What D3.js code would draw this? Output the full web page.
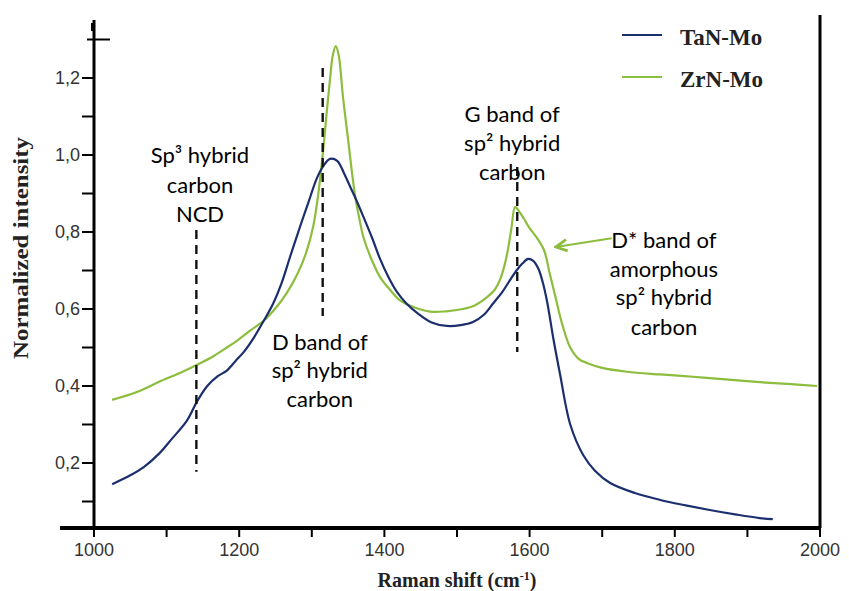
<!DOCTYPE html>
<html><head><meta charset="utf-8">
<script src="https://cdn.jsdelivr.net/npm/d3@7"></script>
<style>body{margin:0;background:#fff}svg{display:block}</style>
</head><body>
<svg id="c" width="849" height="591"></svg>
<script>
const seriesNames = ["TaN-Mo", "ZrN-Mo"];
const seriesColors = ["#1b2f6e", "#8cbd3c"];
const tanX = [1025,1050,1069,1090,1106,1128,1142,1156,1170,1183,1195,1207,1220,1234,1247,1258,1270,1284,1295,1307,1316,1325,1335,1345,1353,1362,1371,1383,1394,1405,1417,1430,1445,1465,1486,1505,1522,1537,1550,1562,1573,1582,1590,1598,1605,1612,1618,1624,1633,1642,1656,1674,1690,1711,1745,1780,1815,1848,1885,1917,1935];
const tanY = [0.145,0.168,0.19,0.225,0.26,0.31,0.36,0.40,0.425,0.44,0.465,0.49,0.525,0.57,0.615,0.665,0.735,0.815,0.875,0.94,0.972,0.99,0.985,0.95,0.917,0.88,0.84,0.785,0.73,0.685,0.645,0.615,0.59,0.565,0.556,0.558,0.566,0.585,0.615,0.643,0.675,0.70,0.718,0.73,0.725,0.705,0.67,0.62,0.52,0.43,0.30,0.22,0.18,0.148,0.122,0.104,0.09,0.078,0.066,0.057,0.054];
const zrnX = [1025,1060,1092,1120,1142,1165,1183,1200,1216,1234,1250,1265,1280,1292,1302,1309,1315,1320,1325,1329,1333,1337,1343,1350,1355,1360,1366,1371,1382,1394,1410,1421,1440,1463,1485,1508,1525,1541,1552,1559,1565,1570,1575,1580,1585,1592,1600,1610,1620,1628,1637,1645,1656,1668,1679,1700,1734,1780,1825,1870,1917,1960,1996];
const zrnY = [0.364,0.385,0.413,0.435,0.455,0.478,0.50,0.522,0.545,0.57,0.602,0.64,0.69,0.745,0.815,0.90,1.0,1.10,1.195,1.26,1.283,1.26,1.15,1.04,0.96,0.89,0.83,0.787,0.73,0.683,0.645,0.623,0.605,0.593,0.594,0.60,0.61,0.63,0.65,0.675,0.71,0.753,0.81,0.865,0.855,0.835,0.81,0.785,0.752,0.69,0.62,0.56,0.50,0.47,0.46,0.447,0.437,0.43,0.424,0.417,0.41,0.405,0.40];
const xTicks = [1000,1200,1400,1600,1800,2000];
const xMinor = [1100,1300,1500,1700,1900];
const yTicks = [0.2,0.4,0.6,0.8,1.0,1.2];
const yMinor = [0.1,0.3,0.5,0.7,0.9,1.1];
const annotations = [
  {x:1141, tx:1146, lines:["Sp³ hybrid","carbon","NCD"], ty:[163,193,222], y0:0.805, y1:0.177},
  {x:1315, tx:1311, lines:["D band of","sp² hybrid","carbon"], ty:[350,378,407], y0:1.226, y1:0.582},
  {x:1583, tx:1576, lines:["G band of","sp² hybrid","carbon"], ty:[122,151,180], y0:0.969, y1:0.488}
];
const dStar = {lines:["D* band of","amorphous","sp² hybrid","carbon"], tx:1785, ty:[248,277,305,335], ax0:1713, ay0:0.784, ax1:1636, ay1:0.761};

const svg = d3.select("#c");
const x = d3.scaleLinear().domain([1000,2000]).range([94,820]);
const y = d3.scaleLinear().domain([0.2,1.2]).range([463,78]);
const yBottom = 528, yTop = 20;

// curves
const line = d3.line().x(d=>x(d[0])).y(d=>y(d[1])).curve(d3.curveCatmullRom.alpha(0.5));
svg.append("path").datum(zrnX.map((v,i)=>[v,zrnY[i]])).attr("d",line)
  .attr("fill","none").attr("stroke",seriesColors[1]).attr("stroke-width",2.2);
svg.append("path").datum(tanX.map((v,i)=>[v,tanY[i]])).attr("d",line)
  .attr("fill","none").attr("stroke",seriesColors[0]).attr("stroke-width",2.2);

// dashed markers and labels
const annFont = "Lato, 'Open Sans', sans-serif";
const annSize = 22;
annotations.forEach(a=>{
  svg.append("line").attr("x1",x(a.x)).attr("x2",x(a.x)).attr("y1",y(a.y0)).attr("y2",y(a.y1))
    .attr("stroke","#111").attr("stroke-width",2.4).attr("stroke-dasharray","9,6");
  a.lines.forEach((t,i)=>svg.append("text").attr("x",x(a.tx)).attr("y",a.ty[i]).attr("text-anchor","middle")
    .attr("font-family",annFont).attr("font-size",annSize).attr("fill","#000").text(t));
});
dStar.lines.forEach((t,i)=>svg.append("text").attr("x",x(dStar.tx)).attr("y",dStar.ty[i]).attr("text-anchor","middle")
  .attr("font-family",annFont).attr("font-size",annSize).attr("fill","#000").text(t));
svg.append("defs").append("marker").attr("id","ah").attr("viewBox","0 0 10 10").attr("refX",9).attr("refY",5)
  .attr("markerWidth",14).attr("markerHeight",14).attr("orient","auto").attr("markerUnits","userSpaceOnUse")
  .append("path").attr("d","M1,1 L9,5 L1,9").attr("fill","none").attr("stroke",seriesColors[1]).attr("stroke-width",2);
svg.append("line").attr("x1",x(dStar.ax0)).attr("y1",y(dStar.ay0)).attr("x2",x(dStar.ax1)).attr("y2",y(dStar.ay1))
  .attr("stroke",seriesColors[1]).attr("stroke-width",2).attr("marker-end","url(#ah)");

// frame/axes
svg.append("line").attr("x1",x(2000)).attr("x2",x(2000)).attr("y1",15).attr("y2",yBottom).attr("stroke","#000").attr("stroke-width",3);
svg.append("line").attr("x1",x(1000)).attr("x2",x(1000)).attr("y1",yTop).attr("y2",yBottom+1).attr("stroke","#000").attr("stroke-width",3);
svg.append("rect").attr("x",x(1000)-3).attr("y",yTop+3).attr("width",3).attr("height",8).attr("fill","#000");
svg.append("line").attr("x1",60).attr("x2",x(2000)+1).attr("y1",yBottom).attr("y2",yBottom).attr("stroke","#000").attr("stroke-width",4);

xTicks.concat(xMinor).forEach(v=>svg.append("line").attr("x1",x(v)).attr("x2",x(v)).attr("y1",yBottom).attr("y2",yBottom+9).attr("stroke","#000").attr("stroke-width",2));
xTicks.forEach(v=>svg.append("text").attr("x",x(v)).attr("y",556).attr("text-anchor","middle")
  .attr("font-family","'Liberation Sans', Arial, sans-serif").attr("font-size",18).attr("fill","#333").text(v));
yTicks.concat(yMinor).forEach(v=>svg.append("line").attr("x1",x(1000)-12).attr("x2",x(1000)).attr("y1",y(v)).attr("y2",y(v)).attr("stroke","#000").attr("stroke-width",2));
svg.append("line").attr("x1",x(1000)-7).attr("x2",x(1000)+16).attr("y1",y(1.3)).attr("y2",y(1.3)).attr("stroke","#000").attr("stroke-width",2);
yTicks.forEach(v=>svg.append("text").attr("x",80).attr("y",y(v)+6).attr("text-anchor","end")
  .attr("font-family","'Liberation Sans', Arial, sans-serif").attr("font-size",18).attr("fill","#333").text(d3.format(".1f")(v).replace(".",",")));

// axis titles
svg.append("text").attr("x",457).attr("y",587).attr("text-anchor","middle")
  .attr("font-family","'Liberation Serif', 'Times New Roman', serif").attr("font-weight","bold").attr("font-size",20).attr("fill","#222")
  .html("Raman shift (cm<tspan dy='-7' font-size='12'>-1</tspan><tspan dy='7'>)</tspan>");
svg.append("text").attr("transform","translate(28,248) rotate(-90)").attr("text-anchor","middle")
  .attr("font-family","'Liberation Serif', 'Times New Roman', serif").attr("font-weight","bold").attr("font-size",21).attr("fill","#222")
  .attr("textLength",222).attr("lengthAdjust","spacingAndGlyphs")
  .text("Normalized intensity");

// legend
seriesNames.forEach((n,i)=>{
  const ly = 35 + i*42;
  svg.append("line").attr("x1",622).attr("x2",662).attr("y1",ly).attr("y2",ly).attr("stroke",seriesColors[i]).attr("stroke-width",2.2);
  svg.append("text").attr("x",680).attr("y",ly+10).attr("font-family","'Liberation Serif', 'Times New Roman', serif")
    .attr("font-weight","bold").attr("font-size",23).attr("fill","#222").text(n);
});
</script>
</body></html>
